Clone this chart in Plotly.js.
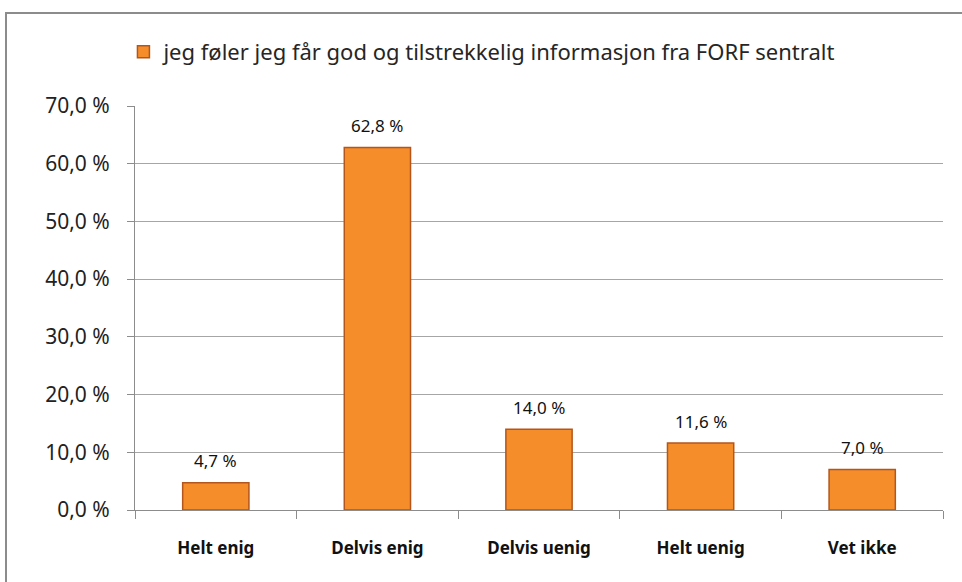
<!DOCTYPE html>
<html>
<head>
<meta charset="utf-8">
<script src="https://cdn.plot.ly/plotly-3.0.1.min.js"></script>
<style>
html,body{margin:0;padding:0;background:#fff;}
#wrap{position:relative;width:962px;height:582px;overflow:hidden;}
#frame{position:absolute;left:5px;top:12px;width:1000px;height:600px;border-left:2px solid #8c8c8c;border-top:2px solid #8c8c8c;pointer-events:none;z-index:2;}
#chart{position:absolute;left:0;top:0;width:962px;height:582px;}
</style>
</head>
<body>
<div id="wrap"><div id="chart"></div><div id="frame"></div></div>
<script>
const categories = ["Helt enig", "Delvis enig", "Delvis uenig", "Helt uenig", "Vet ikke"];
const values = [4.7, 62.8, 14.0, 11.6, 7.0];
const seriesName = "jeg føler jeg får god og tilstrekkelig informasjon fra FORF sentralt";
const yTicks = [0, 10, 20, 30, 40, 50, 60, 70];

const fmt = v => v.toFixed(1).replace('.', ',') + ' %';

const trace = {
  type: 'bar',
  x: categories,
  y: values,
  name: seriesName,
  marker: {color: '#F48D2A', line: {color: '#B4561C', width: 1.5}},
  width: 0.41,
  hoverinfo: 'skip',
  showlegend: true
};

const annotations = categories.map((c, i) => ({
  x: c, y: values[i], xref: 'x', yref: 'y',
  text: fmt(values[i]), showarrow: false,
  yanchor: 'middle', yshift: 22,
  font: {family: 'Noto Sans', size: 17, color: '#111'}
}));

const layout = {
  width: 962, height: 582,
  margin: {l: 135, r: 19, t: 106, b: 72},
  paper_bgcolor: '#fff', plot_bgcolor: '#fff',
  showlegend: true,
  legend: {orientation: 'h', x: 0.43, xanchor: 'center', y: 1.134, yanchor: 'middle',
    font: {family: 'Noto Sans', size: 22, color: '#262626'}, itemwidth: 30},
  xaxis: {
    type: 'category', tickson: 'boundaries', ticks: 'outside', ticklen: 8, tickcolor: '#8c8c8c',
    showline: true, linecolor: '#8c8c8c', linewidth: 1, showgrid: false,
    tickfont: {family: 'Noto Sans', size: 17, color: '#111', weight: 'bold'},
    ticklabelstandoff: 23
  },
  yaxis: {
    range: [0, 70], tickvals: yTicks, ticktext: yTicks.map(fmt),
    ticks: 'outside', ticklen: 7, tickcolor: '#8c8c8c',
    showline: true, linecolor: '#8c8c8c', linewidth: 1,
    showgrid: true, gridcolor: '#a6a6a6', gridwidth: 1, zeroline: false,
    tickfont: {family: 'Noto Sans', size: 21, color: '#222'},
    ticklabelstandoff: 13
  },
  annotations: annotations,
  bargap: 0.59
};

Plotly.newPlot('chart', [trace], layout, {staticPlot: true, displayModeBar: false});
</script>
</body>
</html>
